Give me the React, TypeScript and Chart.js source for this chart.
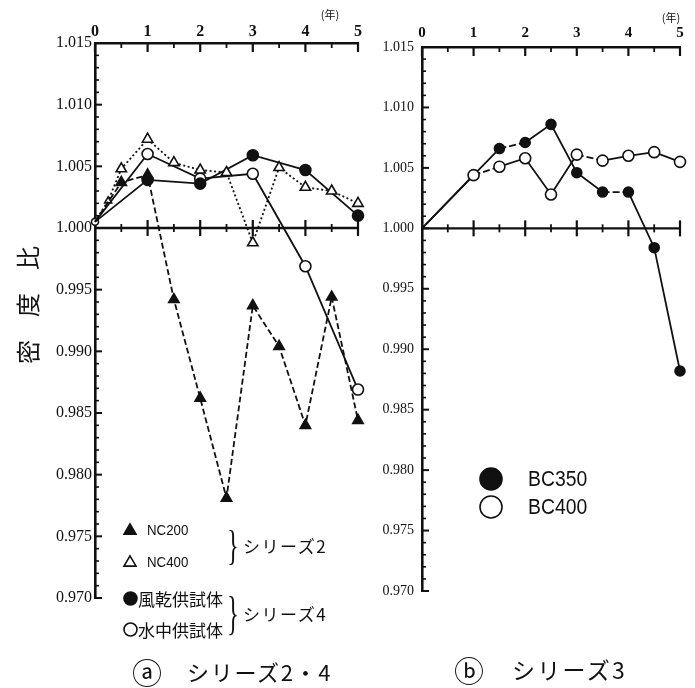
import React, { useEffect, useRef } from 'react';
import { Chart, registerables } from 'chart.js';
Chart.register(...registerables);

const INK = '#111';

// ---- tick labels ----
const xTickYears = [0, 1, 2, 3, 4, 5];
const yTickValues = [1.015, 1.01, 1.005, 1.0, 0.995, 0.99, 0.985, 0.98, 0.975, 0.97];

// ---- (a) series 2 & 4 ----
const nc200Years = [0, 0.5, 1, 1.5, 2, 2.5, 3, 3.5, 4, 4.5, 5];
const nc200Values = [1.0005, 1.0037, 1.0043, 0.9942, 0.9862, 0.9781, 0.9937, 0.9904, 0.984, 0.9944, 0.9844];
const nc400Years = [0, 0.25, 0.5, 1, 1.5, 2, 2.5, 3, 3.5, 4, 4.5, 5];
const nc400Values = [1.0005, 1.0022, 1.0048, 1.0072, 1.0053, 1.0047, 1.0045, 0.9988, 1.0049, 1.0033, 1.003, 1.002];
const airYears = [0, 1, 2, 3, 4, 5];
const airValues = [1.0005, 1.0039, 1.0036, 1.0059, 1.0047, 1.001];
const waterYears = [0, 1, 2, 3, 4, 5];
const waterValues = [1.0005, 1.006, 1.004, 1.0044, 0.9969, 0.9869];

// ---- (b) series 3 ----
const bcYears = [0, 1, 1.5, 2, 2.5, 3, 3.5, 4, 4.5, 5];
const bc350Values = [1.0, 1.0044, 1.0066, 1.0071, 1.0086, 1.0046, 1.003, 1.003, 0.9984, 0.9882];
const bc400Values = [1.0, 1.0044, 1.0051, 1.0058, 1.0028, 1.0061, 1.0056, 1.006, 1.0063, 1.0055];
const bc350DashedSegments = [2, 6];
const bc400DashedSegments = [1, 5];

const W = 695;
const H = 688;

const pts = (xs: number[], ys: number[]) => xs.map((x, i) => ({ x, y: ys[i] }));

const axisDeco = {
  id: 'axisDeco',
  beforeDatasetsDraw(chart: any) {
    const { ctx, chartArea: a, scales } = chart;
    const x = scales.x;
    const y = scales.y;
    const line = (x1: number, y1: number, x2: number, y2: number, w: number) => {
      ctx.lineWidth = w;
      ctx.beginPath();
      ctx.moveTo(x1, y1);
      ctx.lineTo(x2, y2);
      ctx.stroke();
    };
    ctx.save();
    ctx.strokeStyle = INK;
    const yMin = yTickValues[yTickValues.length - 1];
    const yMax = yTickValues[0];
    const nY = Math.round((yMax - yMin) / 0.001);
    for (let i = 0; i <= nY; i++) {
      const py = y.getPixelForValue(yMin + i * 0.001);
      const major = i % 5 === 0;
      line(a.left, py, a.left + (major ? 7 : 4), py, major ? 2 : 1.6);
    }
    const y1 = y.getPixelForValue(1.0);
    line(a.left, y1, a.right, y1, 2.4);
    const xMax = xTickYears[xTickYears.length - 1];
    for (let i = 0; i <= xMax * 2; i++) {
      const px = x.getPixelForValue(i * 0.5);
      const major = i % 2 === 0;
      line(px, a.top, px, a.top + (major ? 9 : 5), major ? 2.2 : 1.8);
      if (i > 0) line(px, y1 - (major ? 8 : 4), px, y1 + (major ? 8 : 4), major ? 2.2 : 1.8);
    }
    ctx.restore();
  },
};

type Area = { left: number; top: number; right: number; bottom: number };

function makeConfig(datasets: any[], area: Area, yFont: number, xFont: number, yPad: number, xPad: number): any {
  return {
    type: 'line',
    data: { datasets },
    plugins: [axisDeco],
    options: {
      responsive: false,
      animation: false,
      events: [],
      layout: { padding: { left: 0, top: 0, right: W - area.right, bottom: H - area.bottom } },
      plugins: { legend: { display: false }, tooltip: { enabled: false } },
      scales: {
        x: {
          type: 'linear',
          position: 'top',
          min: xTickYears[0],
          max: xTickYears[xTickYears.length - 1],
          afterBuildTicks: (s: any) => {
            s.ticks = xTickYears.map((v) => ({ value: v }));
          },
          afterFit: (s: any) => {
            s.height = area.top;
          },
          ticks: {
            padding: xPad,
            maxRotation: 0,
            autoSkip: false,
            color: INK,
            font: { family: "'Liberation Serif', serif", size: xFont, weight: 'bold' },
            callback: (v: any) => String(v),
          },
          grid: { display: false, drawTicks: false },
          border: { display: true, width: 2.6, color: INK },
        },
        y: {
          type: 'linear',
          min: yTickValues[yTickValues.length - 1],
          max: yTickValues[0],
          afterBuildTicks: (s: any) => {
            s.ticks = yTickValues.map((v) => ({ value: v }));
          },
          afterFit: (s: any) => {
            s.width = area.left;
          },
          ticks: {
            padding: yPad,
            autoSkip: false,
            color: INK,
            font: { family: "'Liberation Serif', serif", size: yFont },
            callback: (v: any) => Number(v).toFixed(3),
          },
          grid: { display: false, drawTicks: false },
          border: { display: true, width: 2.6, color: INK },
        },
      },
    },
  };
}

const baseDs = {
  borderColor: INK,
  pointBorderColor: INK,
  borderWidth: 1.8,
  pointBorderWidth: 1.6,
  clip: false,
  tension: 0,
};

function leftDatasets() {
  return [
    {
      ...baseDs,
      label: 'NC200',
      data: pts(nc200Years, nc200Values),
      borderDash: [6, 3],
      pointStyle: 'triangle',
      pointBackgroundColor: INK,
      pointRadius: (c: any) => (c.dataIndex === 0 ? 0 : 6),
    },
    {
      ...baseDs,
      label: 'NC400',
      data: pts(nc400Years, nc400Values),
      borderDash: [2, 2.5],
      pointStyle: 'triangle',
      pointBackgroundColor: '#fff',
      pointRadius: (c: any) => (c.dataIndex === 0 ? 0 : c.dataIndex === 1 ? 4 : 6),
    },
    {
      ...baseDs,
      label: '風乾供試体',
      data: pts(airYears, airValues),
      pointStyle: 'circle',
      pointBackgroundColor: INK,
      pointRadius: (c: any) => (c.dataIndex === 0 ? 0 : 5.5),
    },
    {
      ...baseDs,
      label: '水中供試体',
      data: pts(waterYears, waterValues),
      pointStyle: 'circle',
      pointBackgroundColor: '#fff',
      pointRadius: (c: any) => (c.dataIndex === 0 ? 3.5 : 5.5),
    },
  ];
}

function rightDatasets() {
  return [
    {
      ...baseDs,
      label: 'BC400',
      data: pts(bcYears, bc400Values),
      pointStyle: 'circle',
      pointBackgroundColor: '#fff',
      pointRadius: (c: any) => (c.dataIndex === 0 ? 0 : 5.5),
      segment: { borderDash: (c: any) => (bc400DashedSegments.includes(c.p0DataIndex) ? [7, 3] : undefined) },
    },
    {
      ...baseDs,
      label: 'BC350',
      data: pts(bcYears, bc350Values),
      pointStyle: 'circle',
      pointBackgroundColor: INK,
      pointRadius: (c: any) => (c.dataIndex === 0 ? 0 : 5),
      segment: { borderDash: (c: any) => (bc350DashedSegments.includes(c.p0DataIndex) ? [7, 3] : undefined) },
    },
  ];
}

const JP = "'Noto Sans CJK JP', 'Noto Sans', sans-serif";

const T = (props: { x: number; y: number; size: number; text: string; family?: string; ls?: number; center?: boolean; sx?: number; weight?: number }) => {
  const { x, y, size, text, family = JP, ls = 0, center = false, sx = 1, weight = 400 } = props;
  return (
    <div
      style={{
        position: 'absolute',
        left: x,
        top: y,
        fontFamily: family,
        fontSize: size,
        fontWeight: weight,
        lineHeight: 1,
        letterSpacing: ls,
        whiteSpace: 'nowrap',
        color: INK,
        transformOrigin: center ? '50% 50%' : '0 50%',
        transform: center ? `translate(-50%, -50%) scaleX(${sx})` : `translateY(-50%) scaleX(${sx})`,
      }}
    >
      {text}
    </div>
  );
};

const Marker = (props: { x: number; y: number; kind: 'tri' | 'otri' | 'dot' | 'odot'; r: number }) => {
  const { x, y, kind, r } = props;
  const s = r * 2 + 4;
  const c = s / 2;
  let shape;
  if (kind === 'tri' || kind === 'otri') {
    const h = r * 1.7;
    const p = `${c},${c - h * 0.6} ${c + r},${c + h * 0.4} ${c - r},${c + h * 0.4}`;
    shape = <polygon points={p} fill={kind === 'tri' ? INK : '#fff'} stroke={INK} strokeWidth={1.6} />;
  } else {
    shape = <circle cx={c} cy={c} r={r} fill={kind === 'dot' ? INK : '#fff'} stroke={INK} strokeWidth={1.6} />;
  }
  return (
    <svg width={s} height={s} style={{ position: 'absolute', left: x - c, top: y - c }}>
      {shape}
    </svg>
  );
};

const Brace = (props: { x: number; y: number; h: number }) => (
  <div
    style={{
      position: 'absolute',
      left: props.x,
      top: props.y,
      fontFamily: "'Liberation Serif', serif",
      fontSize: 30,
      lineHeight: 1,
      color: INK,
      transform: `translate(-50%, -50%) scale(0.8, ${props.h / 30})`,
    }}
  >
    {'}'}
  </div>
);

export default function App() {
  const leftRef = useRef<HTMLCanvasElement | null>(null);
  const rightRef = useRef<HTMLCanvasElement | null>(null);

  useEffect(() => {
    const c1 = new Chart(
      leftRef.current as HTMLCanvasElement,
      makeConfig(leftDatasets(), { left: 95, top: 43, right: 358, bottom: 598 }, 16, 16, 3, 2)
    );
    const c2 = new Chart(
      rightRef.current as HTMLCanvasElement,
      makeConfig(rightDatasets(), { left: 422, top: 47, right: 680, bottom: 591 }, 14, 15, 8, 5)
    );
    return () => {
      c1.destroy();
      c2.destroy();
    };
  }, []);

  return (
    <div style={{ position: 'absolute', left: 0, top: 0, width: W, height: H, background: '#fff', overflow: 'hidden' }}>
      <canvas ref={leftRef} width={W} height={H} style={{ position: 'absolute', left: 0, top: 0 }} />
      <canvas ref={rightRef} width={W} height={H} style={{ position: 'absolute', left: 0, top: 0 }} />

      {/* y-axis title */}
      <div
        style={{
          position: 'absolute',
          left: 27,
          top: 305,
          fontFamily: JP,
          fontSize: 24,
          lineHeight: 1,
          letterSpacing: 23,
          paddingLeft: 23,
          whiteSpace: 'nowrap',
          color: INK,
          transform: 'translate(-50%, -50%) rotate(-90deg)',
        }}
      >
        密度比
      </div>

      {/* year unit */}
      <T x={330} y={14} size={11} text="(年)" center />
      <T x={671} y={17} size={11} text="(年)" center />

      {/* legend (a) */}
      <Marker x={130} y={530} kind="tri" r={6} />
      <T x={147} y={530} size={14} text="NC200" family="'Liberation Sans', sans-serif" sx={0.95} />
      <Marker x={130} y={562} kind="otri" r={6} />
      <T x={147} y={562} size={14} text="NC400" family="'Liberation Sans', sans-serif" sx={0.95} />
      <Marker x={130} y={598} kind="dot" r={6.5} />
      <T x={138} y={598} size={17} text="風乾供試体" />
      <Marker x={130} y={629} kind="odot" r={6.5} />
      <T x={138} y={629} size={17} text="水中供試体" />
      <Brace x={233} y={545} h={42} />
      <Brace x={233} y={614} h={46} />
      <T x={243} y={545} size={17} text="シリーズ2" ls={1.5} />
      <T x={243} y={613} size={17} text="シリーズ4" ls={1.5} />

      {/* legend (b) */}
      <Marker x={491} y={479} kind="dot" r={11} />
      <T x={528} y={479} size={22} text="BC350" family="'Liberation Sans', sans-serif" sx={0.88} />
      <Marker x={491} y={507} kind="odot" r={11} />
      <T x={528} y={507} size={22} text="BC400" family="'Liberation Sans', sans-serif" sx={0.88} />

      {/* captions */}
      <T x={147} y={671} size={30} text="ⓐ" center />
      <T x={187} y={671} size={22} text="シリーズ2・4" ls={1.7} />
      <T x={469} y={669} size={30} text="ⓑ" center />
      <T x={512} y={669} size={23} text="シリーズ3" ls={2.3} />
    </div>
  );
}
